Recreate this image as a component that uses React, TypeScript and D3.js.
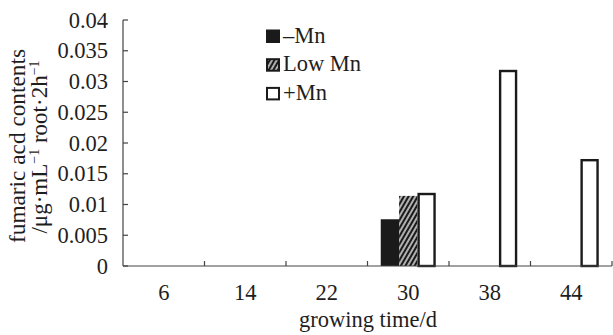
import React, { useEffect, useRef } from 'react';
import * as d3 from 'd3';

const days = ['6', '14', '22', '30', '38', '44'];
const seriesNames = ['–Mn', 'Low Mn', '+Mn'];
const minusMn = [0, 0, 0, 0.0076, 0, 0];
const lowMn = [0, 0, 0, 0.0114, 0, 0];
const plusMn = [0, 0, 0, 0.0119, 0.0319, 0.0174];
const yTicks = [0, 0.005, 0.01, 0.015, 0.02, 0.025, 0.03, 0.035, 0.04];

const W = 613;
const H = 335;
const FONT = '"Liberation Serif", serif';
const FS = 22.5;

const App: React.FC = () => {
  const svgRef = useRef<SVGSVGElement>(null);

  useEffect(() => {
    if (!svgRef.current) return;
    const svg = d3.select(svgRef.current);
    svg.selectAll('*').remove();

    const left = 123;
    const right = 612;
    const top = 20;
    const bottom = 266;

    const x = d3.scaleBand<string>().domain(days).range([left, right]).padding(0);
    const y = d3.scaleLinear().domain([0, 0.04]).range([bottom, top]);

    // the three bars of a group fill ~2/3 of the category band
    const groupW = x.bandwidth() * 0.675;
    const sub = d3.scaleBand<number>().domain([0, 1, 2]).range([0, groupW]).padding(0);

    const txt = (sel: d3.Selection<any, any, any, any>) =>
      sel.style('font-family', FONT).attr('font-size', FS).attr('fill', '#1e1e1e');

    // hatch pattern for Low Mn
    const defs = svg.append('defs');
    const pat = defs.append('pattern')
      .attr('id', 'hatch')
      .attr('patternUnits', 'userSpaceOnUse')
      .attr('width', 4)
      .attr('height', 4)
      .attr('patternTransform', 'rotate(30)');
    pat.append('rect').attr('width', 4).attr('height', 4).attr('fill', '#1a1a1a');
    pat.append('line')
      .attr('x1', 2).attr('y1', 0).attr('x2', 2).attr('y2', 4)
      .attr('stroke', '#fff').attr('stroke-width', 1.3);

    const series = [minusMn, lowMn, plusMn];
    const fills = ['#1a1a1a', 'url(#hatch)', '#fff'];

    series.forEach((vals, si) => {
      const inset = si === 2 ? 1.2 : 0;
      svg.append('g')
        .selectAll('rect')
        .data(vals.map((v, i) => ({ v, d: days[i] })).filter(o => o.v > 0))
        .join('rect')
        .attr('x', o => x(o.d)! + (x.bandwidth() - groupW) / 2 + sub(si)! + inset)
        .attr('y', o => y(o.v) + inset)
        .attr('width', sub.bandwidth() - 2 * inset)
        .attr('height', o => bottom - y(o.v) - inset)
        .attr('fill', fills[si])
        .attr('stroke', si === 2 ? '#1a1a1a' : 'none')
        .attr('stroke-width', 2.4);
    });

    // axes
    const axisColor = '#444';
    svg.append('line')
      .attr('x1', left).attr('x2', left).attr('y1', top).attr('y2', bottom)
      .attr('stroke', axisColor).attr('stroke-width', 1.2);
    svg.append('line')
      .attr('x1', left).attr('x2', right).attr('y1', bottom).attr('y2', bottom)
      .attr('stroke', axisColor).attr('stroke-width', 1.2);

    svg.append('g').selectAll('line')
      .data(yTicks)
      .join('line')
      .attr('x1', left).attr('x2', left + 5)
      .attr('y1', d => y(d)).attr('y2', d => y(d))
      .attr('stroke', axisColor).attr('stroke-width', 1.2);

    svg.append('g').selectAll('text')
      .data(yTicks)
      .join('text')
      .attr('x', 108)
      .attr('y', d => y(d) + 7.5)
      .attr('text-anchor', 'end')
      .call(txt)
      .text(d => String(+d.toFixed(3)));

    const bounds = days.slice(1).map(d => x(d)!).concat([right]);
    svg.append('g').selectAll('line')
      .data(bounds)
      .join('line')
      .attr('x1', d => d).attr('x2', d => d)
      .attr('y1', bottom).attr('y2', bottom - 5)
      .attr('stroke', axisColor).attr('stroke-width', 1.2);

    svg.append('g').selectAll('text')
      .data(days)
      .join('text')
      .attr('x', d => x(d)! + x.bandwidth() / 2)
      .attr('y', 300)
      .attr('text-anchor', 'middle')
      .call(txt)
      .text(d => d);

    svg.append('text')
      .attr('x', 368)
      .attr('y', 327)
      .attr('text-anchor', 'middle')
      .call(txt)
      .text('growing time/d');

    // y title, two rotated lines
    svg.append('text')
      .attr('transform', 'translate(25,146) rotate(-90)')
      .attr('text-anchor', 'middle')
      .call(txt)
      .attr('font-size', 23)
      .attr('textLength', 194)
      .attr('lengthAdjust', 'spacingAndGlyphs')
      .text('fumaric acd contents');

    const t2 = svg.append('text')
      .attr('transform', 'translate(47,147) rotate(-90)')
      .attr('text-anchor', 'middle')
      .call(txt)
      .attr('font-size', 23);
    t2.append('tspan').text('/μg·mL');
    t2.append('tspan').attr('font-size', 14).attr('dy', -8).text('−1');
    t2.append('tspan').attr('dy', 8).text(' root·2h');
    t2.append('tspan').attr('font-size', 14).attr('dy', -8).text('−1');

    // legend
    const legend = svg.append('g').attr('transform', 'translate(266,30)');
    seriesNames.forEach((name, i) => {
      const g = legend.append('g').attr('transform', `translate(0,${i * 28.7})`);
      g.append('rect')
        .attr('x', 1).attr('y', 0.5)
        .attr('width', 12).attr('height', 11.5)
        .attr('fill', fills[i])
        .attr('stroke', '#1a1a1a')
        .attr('stroke-width', 2);
      g.append('text')
        .attr('x', 17)
        .attr('y', 12.7)
        .call(txt)
        .text(name);
    });
  }, []);

  return (
    <svg
      ref={svgRef}
      width={W}
      height={H}
      style={{ position: 'absolute', left: 0, top: 0, background: '#fff' }}
    />
  );
};

export default App;
